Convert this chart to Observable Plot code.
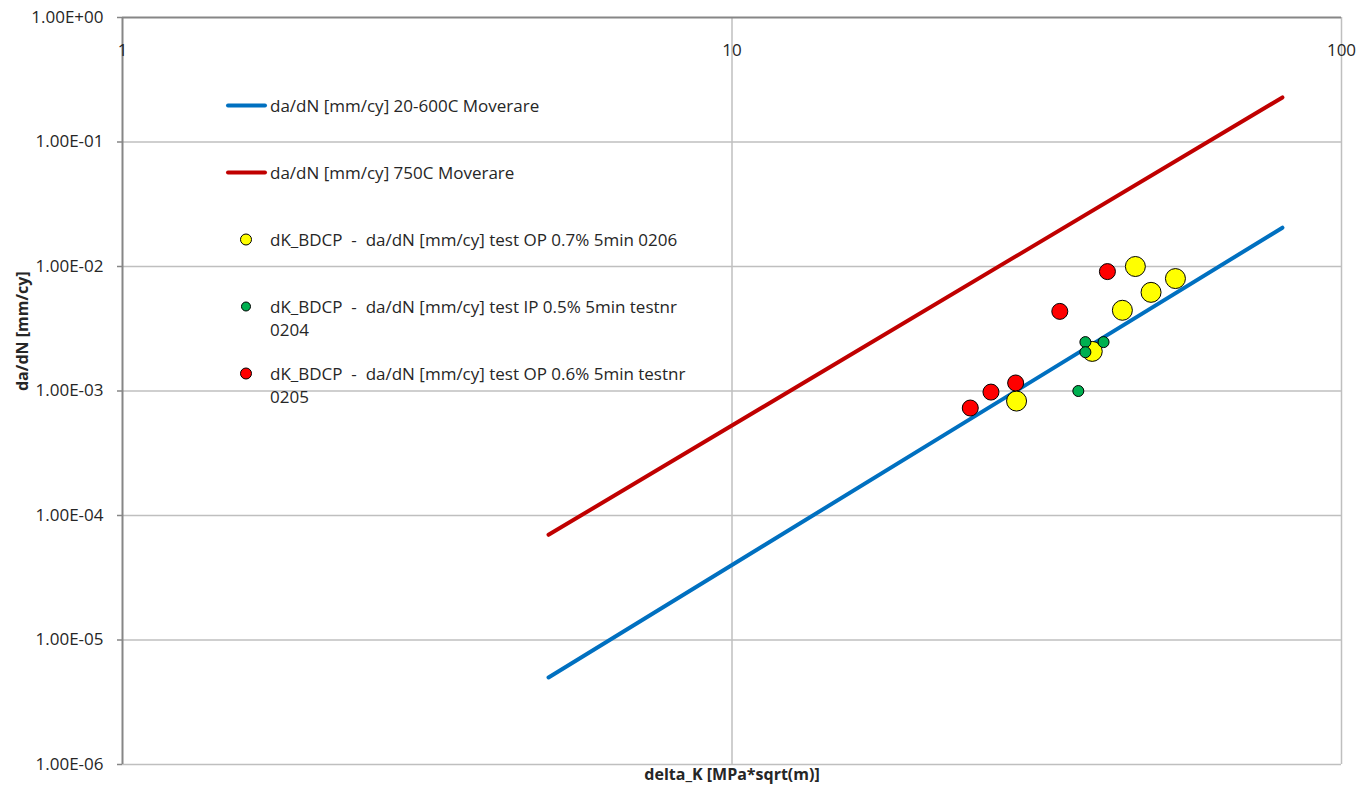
<!DOCTYPE html>
<html>
<head>
<meta charset="utf-8">
<script src="https://cdn.jsdelivr.net/npm/d3@7"></script>
<script src="https://cdn.jsdelivr.net/npm/@observablehq/plot@0.6"></script>
<style>
  html, body { margin: 0; padding: 0; background: #fff; }
  #wrap { position: relative; width: 1370px; height: 793px; font-family: "Open Sans", "Liberation Sans", sans-serif; }
  #legend { position: absolute; left: 0; top: 0; pointer-events: none; color: #262626; font-size: 17px; }
  .item { position: absolute; display: flex; align-items: flex-start; }
  .item svg { flex: none; }
  .item span { line-height: 23px; white-space: pre-wrap; width: 440px; }
</style>
</head>
<body>
<div id="wrap"><div id="legend"></div></div>
<script>
// ---- data ----
const xTicks = [1, 10, 100];
const yTicks = [1, 1e-1, 1e-2, 1e-3, 1e-4, 1e-5, 1e-6];

const blueX = [5, 80];
const blueY = [5.0e-6, 2.05e-2];

const redX = [5, 80];
const redY = [7.0e-5, 0.228];

const yellowX = [45.9, 53.4, 48.7, 43.7, 39.0, 29.3];
const yellowY = [1.0e-2, 8.0e-3, 6.2e-3, 4.45e-3, 2.08e-3, 8.3e-4];

const greenX = [38.0, 40.7, 38.0, 37.0];
const greenY = [2.47e-3, 2.47e-3, 2.05e-3, 1.0e-3];

const redPtX = [41.3, 34.5, 29.2, 26.6, 24.6];
const redPtY = [9.1e-3, 4.36e-3, 1.16e-3, 9.8e-4, 7.3e-4];

const seriesNames = [
  "da/dN [mm/cy] 20-600C Moverare",
  "da/dN [mm/cy] 750C Moverare",
  "dK_BDCP  -  da/dN [mm/cy] test OP 0.7% 5min 0206",
  "dK_BDCP  -  da/dN [mm/cy] test IP 0.5% 5min testnr 0204",
  "dK_BDCP  -  da/dN [mm/cy] test OP 0.6% 5min testnr 0205"
];

const toRows = (xs, ys) => xs.map((x, i) => ({x, y: ys[i]}));

function sci(v) {
  const e = Math.round(Math.log10(v));
  const m = (v / Math.pow(10, e)).toFixed(2);
  return m + "E" + (e < 0 ? "-" : "+") + String(Math.abs(e)).padStart(2, "0");
}

const font = '"Open Sans", "Liberation Sans", sans-serif';

const chart = Plot.plot({
  width: 1370,
  height: 793,
  marginLeft: 122,
  marginRight: 29,
  marginTop: 17,
  marginBottom: 29,
  style: {fontFamily: font, fontSize: "17px", color: "#262626", background: "#fff"},
  x: {type: "log", domain: [1, 100], axis: null},
  y: {type: "log", domain: [1e-6, 1], axis: null},
  marks: [
    // gridlines
    Plot.ruleY(yTicks.slice(1), {y: d => d, stroke: "#bfbfbf", strokeWidth: 1.5}),
    Plot.ruleX([10, 100], {x: d => d, stroke: "#bfbfbf", strokeWidth: 1.5}),
    // top axis line & left axis line
    Plot.ruleY([1], {y: d => d, stroke: "#868686", strokeWidth: 2}),
    Plot.ruleX([1], {x: d => d, stroke: "#868686", strokeWidth: 2}),
    // y axis ticks & labels
    Plot.axisY(yTicks, {
      ticks: yTicks, tickSize: 5, tickPadding: 14, tickFormat: sci,
      stroke: "#868686", strokeWidth: 1.5, label: null, fill: "#262626", fontSize: 17
    }),
    // x tick labels (inside, below top line)
    Plot.text(xTicks, {x: d => d, frameAnchor: "top", dy: 26, text: d => String(d), fill: "#262626", fontSize: 17}),
    // axis titles
    Plot.text([" "], {frameAnchor: "left", dx: -100, rotate: -90, text: () => "da/dN [mm/cy]", fontWeight: "bold", fontSize: 16, fill: "#262626"}),
    Plot.text([" "], {frameAnchor: "bottom", dy: 15, text: () => "delta_K [MPa*sqrt(m)]", fontWeight: "bold", fontSize: 16, fill: "#262626"}),
    // lines
    Plot.line(toRows(blueX, blueY), {x: "x", y: "y", stroke: "#0070C0", strokeWidth: 4, strokeLinecap: "round"}),
    Plot.line(toRows(redX, redY), {x: "x", y: "y", stroke: "#C00000", strokeWidth: 4, strokeLinecap: "round"}),
    // points
    Plot.dot(toRows(yellowX, yellowY), {x: "x", y: "y", r: 10, fill: "#FFFF00", stroke: "#000", strokeWidth: 1}),
    Plot.dot(toRows(greenX, greenY), {x: "x", y: "y", r: 5.5, fill: "#00B050", stroke: "#000", strokeWidth: 1}),
    Plot.dot(toRows(redPtX, redPtY), {x: "x", y: "y", r: 8, fill: "#FF0000", stroke: "#000", strokeWidth: 1})
  ]
});
document.getElementById("wrap").prepend(chart);

// legend overlay (HTML)
const legendItems = [
  {kind: "line", color: "#0070C0", top: 94},
  {kind: "line", color: "#C00000", top: 161},
  {kind: "dot", color: "#FFFF00", r: 5.5, top: 228},
  {kind: "dot", color: "#00B050", r: 4.5, top: 295},
  {kind: "dot", color: "#FF0000", r: 5.5, top: 362}
];
const legend = document.getElementById("legend");
legendItems.forEach((it, i) => {
  const div = document.createElement("div");
  div.className = "item";
  div.style.left = "224px";
  div.style.top = it.top + "px";
  const sym = it.kind === "line"
    ? `<svg width="46" height="23"><line x1="4" y1="11.5" x2="41" y2="11.5" stroke="${it.color}" stroke-width="4" stroke-linecap="round"/></svg>`
    : `<svg width="46" height="23"><circle cx="22" cy="11.5" r="${it.r}" fill="${it.color}" stroke="#000" stroke-width="1"/></svg>`;
  div.innerHTML = sym + `<span>${seriesNames[i]}</span>`;
  legend.appendChild(div);
});
</script>
</body>
</html>
